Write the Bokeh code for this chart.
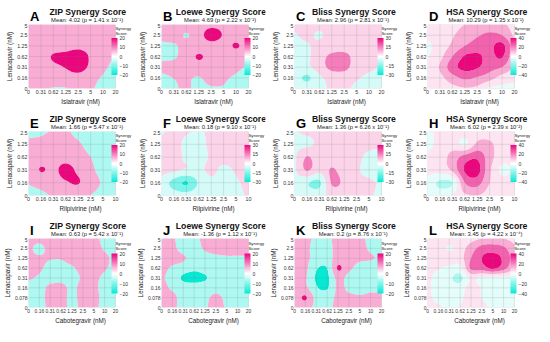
import numpy as np
from bokeh.plotting import figure
from bokeh.layouts import gridplot
from bokeh.models import Range1d, FixedTicker, ColorBar, LinearColorMapper, Label
from bokeh.embed import file_html
from bokeh.resources import INLINE

# ---------------- data ----------------
islatravir = ["0", "0.31", "0.62", "1.25", "2.5", "5", "10", "20"]
rilpivirine = ["0", "0.16", "0.31", "0.62", "1.25", "2.5", "5", "10"]
cabotegravir = ["0", "0.16", "0.31", "0.62", "1.25", "2.5", "5", "10", "20"]
lena_1 = ["0", "0.16", "0.31", "0.62", "1.25", "2.5", "5"]
lena_2 = ["0", "0.16", "0.31", "0.62", "1.25", "2.5"]
lena_3 = ["0", "0.078", "0.16", "0.31", "0.62", "1.25", "2.5", "5"]

letters = ["A", "B", "C", "D", "E", "F", "G", "H", "I", "J", "K", "L"]
methods = ["ZIP", "Loewe", "Bliss", "HSA"] * 3
means = ["4.02", "4.69", "2.96", "10.29", "1.66", "0.18", "1.36", "6.02",
         "0.63", "-1.36", "0.2", "3.45"]
pvals = ["1.41 x 10\u207b\u00b9", "2.22 x 10\u207b\u00b2", "2.81 x 10\u207b\u00b9", "1.35 x 10\u207b\u00b9",
         "5.47 x 10\u207b\u00b9", "9.10 x 10\u207b\u00b9", "6.26 x 10\u207b\u00b9", "2.39 x 10\u207b\u00b2",
         "5.42 x 10\u207b\u00b9", "1.12 x 10\u207b\u00b9", "8.76 x 10\u207b\u00b9", "4.22 x 10\u207b\u2074"]
score_max = [20, 20, 30, 40, 20, 30, 30, 40, 20, 20, 20, 40]
bar_ticks = {20: [-20, -10, 0, 10, 20], 30: [-30, -15, 0, 15, 30], 40: [-40, -20, 0, 20, 40]}

# synergy score matrices: rows = Lenacapavir dose from highest (top) to 0 (bottom)
zip_isl = [
    [4, 5, 5, 5, 5, 5, 4, 4],
    [4, 5, 6, 6, 6, 6, 5, 4],
    [4, 5, 6, 7, 8, 7, 5, 2],
    [4, 6, 10.8, 12, 14, 9, 4, -0.5],
    [4, 5, 8, 10.5, 14, 8, 2, -3],
    [3, 4, 4, 5, 6, 3, -1, -4],
    [2, 1, -0.5, -0.5, 2, 1, -3, -4],
]
loewe_isl = [
    [3, 4, 4, 4, 6, 6, 5, 4],
    [3, 4, -0.5, 5, 16, 9, 5, 4],
    [-2, -1, 3, 4, 5, 5, 11, 4],
    [-2, -1, 4, 11, 6, 5, 4, 3],
    [2, 3, 4, 5, 5, 3, 1.5, -1],
    [-2, 0.2, 1, -0.5, 3, 1, -1, -3],
    [-3, -1, 1, -2, -1, -0.5, -3, -4],
]
bliss_isl = [
    [3, 3, 3, 4, 4, 4, 3, 3],
    [-1, 2, -1, 4, 4, 4, 3, 3],
    [-3, -1, 3, 5, 5, 4, 3, 3],
    [-3, -2, 6, 12, 13, 6, 3, 2],
    [-3, -2, 5, 13, 13, 5, 2, -1],
    [-4, -12, -2, 3, 4, 1, -2, -3],
    [-3, -3, -2, 1, 2, -2, -3, -3],
]
hsa_isl = [
    [3, 4, 6, 10, 13, 14, 12, 5],
    [2, 5, 9, 15, 19, 22, 20, 8],
    [-2, 4, 12, 20, 24, 27, 33, 12],
    [-1, 7, 20, 31, 32, 27, 31, 10],
    [1, 11, 26, 33, 31, 24, 20, 8],
    [2, 7, 16, 22, 19, 14, 6, 2],
    [1, 3, 6, 9, 7, -2, -3, -2],
]
zip_ril = [
    [-3, -2, 1, 1, -2, -3, -3, -3],
    [2, 3, 4, 2, 1, -3, -4, -4],
    [3, 5, 6, 6, 4, 0, -4, -4],
    [4, 10.5, 8, 13, 8, 2, -3, -4],
    [0.5, 3, 5, 9, 10.5, 4, -1, -4],
    [-3, -2, 1, 3, 3, -0.2, -3, -4],
]
loewe_ril = [
    [-1, 2, 1, -1, 2, 3, 3, 3],
    [2, 3, -2, -3, 2, 3, 3, 3],
    [3, 4, -2, -3, 1, 3, 3, 2],
    [3, 2, -1, -2, 2, -2, 1, 3],
    [-3, -14, -21, -9, -2, -4, -1, 2],
    [-2, -4, -5, -3, -2, -4, -2, 1],
]
bliss_ril = [
    [-1, 2, 2, 2, 2, 2, 1, 1],
    [-2, -2, 2, 3, 3, 3, 2, 1],
    [-2, 10.5, 4, 4, 4, 2, -2, -3],
    [-2, 11, 3, 11, 5, 1, -2, -3],
    [-3, -9, -12, 11, 8, 2, 1, -1],
    [-3, -3, -3, 3, 4, 3, 1, -2],
]
hsa_ril = [
    [-2, 2, 3, 5, 6, 4, 3, 2],
    [-3, 3, 5, -1, 12, 12, 4, 3],
    [2, 5, 14, 24, 28, 14, 4, 2],
    [3, 4, 12, 31, 34, 12, -2, 2],
    [-3, -12, -10, 20, 24, 10, 4, 3],
    [-2, -4, 2, 8, 10, 5, 3, 2],
]
zip_cab = [
    [3, 3, 4, 4, 4, 4, 2, -2, -3],
    [2, -2, 3, 5, 5, 5, 4, -1, -3],
    [2, 1, 0.5, 0.5, 3, 5, 5, 2, -3],
    [2, 1, -2, -2, -1, 3, 4, 1, -3],
    [1, -1, -3, -3, -3, 1, 2, -2, -4],
    [-3, -3, 2, 3, -2, 3, 2, -3, -4],
    [-3, -3, 3, 3, -2, 3, 3, -3, -4],
    [-3, -3, 2, 3, -2, 2, 2, -3, -4],
]
loewe_cab = [
    [3, 1, -3, -2, 2, 3, 3, 3, 3],
    [3, 2, -3, -3, 1, 3, 3, 3, 3],
    [3, 3, 1, -3, -3, -2, -1, -1, -1],
    [2, -1, -4, -8, -6, -5, -4, -3, -3],
    [0.5, -2, -12, -13, -11, -5, -4, -4, -4],
    [2, -1, -4, -6, -5, -3, -4, -5, -5],
    [3, 2, -3, -4, -2, 2, -2, -4, -4],
    [3, 2, -3, -3, -1, 3, -1, -4, -4],
]
bliss_cab = [
    [3, 3, -2, -2, 3, 3, 2, -2, -3],
    [3, 2, -3, -3, 3, 3, 2, -1, -3],
    [3, 2, -3, -4, 4, 2, 1, 0.5, -1],
    [3, 2, -9, -10, 11, 2, -2, -3, -3],
    [3, 1, -11, -12, 3, -3, -4, -4, -4],
    [3, 2, -9, -11, 2, -2, -3, -2, -2],
    [3, 11, -3, -4, 2, 2, 1, 2, 2],
    [3, 3, -2, -3, 3, 3, 3, 3, 3],
]
hsa_cab = [
    [3, 4, 5, 5, 6, 10, 12, 10, 6],
    [3, 5, -1, 5, 15, 24, 25, 22, 12],
    [2, 4, 5, 6, 20, 30, 34, 28, 14],
    [2, 0.5, -2, -3, 22, 25, 32, 24, 10],
    [2, -3, -8, -13, 2, -2, -3, -3, -2],
    [2, -4, -6, -5, 4, -0.5, -4, -4, -3],
    [2, -2, -3, -2, 5, -0.5, -3, -4, -3],
    [2, 1, -1, 0.5, 4, 3, -2, -3, -2],
]

matrices = [zip_isl, loewe_isl, bliss_isl, hsa_isl,
            zip_ril, loewe_ril, bliss_ril, hsa_ril,
            zip_cab, loewe_cab, bliss_cab, hsa_cab]
x_labels = [islatravir] * 4 + [rilpivirine] * 4 + [cabotegravir] * 4
x_names = ["Islatravir (nM)"] * 4 + ["Rilpivirine (nM)"] * 4 + ["Cabotegravir (nM)"] * 4
y_labels = [lena_1] * 4 + [lena_2] * 4 + [lena_3] * 4

# ---------------- styling helpers ----------------
POS = np.array([236, 6, 126])
NEG = np.array([6, 234, 212])
WHITE = np.array([255, 255, 255])
FONT = "Liberation Sans"


def mix(end, g):
    c = WHITE + (end - WHITE) * g
    return "#%02x%02x%02x" % tuple(int(round(v)) for v in c)


def band_color(lo, hi, m):
    outer = hi if hi > 0 else lo
    f = min(abs(outer) / m, 1.0) ** 1.6
    return mix(POS if hi > 0 else NEG, f)


palette = [mix(NEG, 1 - i / 127) for i in range(128)] + [mix(POS, i / 127) for i in range(128)]


def smooth(z, k=10):
    """Catmull-Rom resampling used only to draw smooth contour outlines."""
    def along_last(a):
        n = a.shape[-1]
        t = np.linspace(0, n - 1, (n - 1) * k + 1)
        i = np.clip(np.floor(t).astype(int), 0, n - 2)
        u = t - i
        pad = np.concatenate([2 * a[..., :1] - a[..., 1:2], a, 2 * a[..., -1:] - a[..., -2:-1]], axis=-1)
        p0, p1, p2, p3 = pad[..., i], pad[..., i + 1], pad[..., i + 2], pad[..., i + 3]
        return 0.5 * (2 * p1 + (-p0 + p2) * u + (2 * p0 - 5 * p1 + 4 * p2 - p3) * u ** 2
                      + (-p0 + 3 * p1 - 3 * p2 + p3) * u ** 3)
    z1 = along_last(z)
    return along_last(z1.T).T


W = 133
HEAD_H = 23
PANEL_H = [84, 84, 89]
LEGEND_FRAC = 18.0 / 92.0   # share of the frame kept free for the colour bar


def make_header(k):
    h = figure(width=W, height=HEAD_H, x_range=Range1d(0, W), y_range=Range1d(0, HEAD_H),
               x_axis_type=None, y_axis_type=None, output_backend="svg", toolbar_location=None,
               min_border=0)
    h.title.visible = False
    h.grid.visible = False
    h.outline_line_color = None
    h.add_layout(Label(x=2, y=7, text=letters[k], text_font=FONT, text_font_size="13px",
                       text_font_style="bold", text_color="#000000", text_baseline="alphabetic"))
    h.add_layout(Label(x=76, y=12, text="%s Synergy Score" % methods[k], text_font=FONT,
                       text_font_size="8.7px", text_font_style="bold", text_color="#111111",
                       text_align="center", text_baseline="alphabetic"))
    h.add_layout(Label(x=75, y=4, text="Mean: %s (p = %s)" % (means[k], pvals[k]), text_font=FONT,
                       text_font_size="5.8px", text_color="#222222",
                       text_align="center", text_baseline="alphabetic"))
    return h


def make_panel(k):
    z = np.array(matrices[k], dtype=float)[::-1]
    ny, nx = z.shape
    m = score_max[k]
    xt, yt = x_labels[k], y_labels[k]
    r = k // 4

    p = figure(width=W, height=PANEL_H[r],
               x_range=Range1d(0, (nx - 1) * (1 + LEGEND_FRAC)), y_range=Range1d(0, ny - 1),
               output_backend="svg", toolbar_location=None,
               min_border_left=0, min_border_right=1, min_border_top=1, min_border_bottom=0)
    p.title.visible = False

    zs = np.clip(smooth(z), -m + 0.01, m - 0.01)
    xs = np.linspace(0, nx - 1, zs.shape[1])
    ys = np.linspace(0, ny - 1, zs.shape[0])
    levels = list(range(-m, m + 1, 10))
    fills = [band_color(levels[i], levels[i + 1], m) for i in range(len(levels) - 1)]
    p.contour(x=xs, y=ys, z=zs, levels=levels, fill_color=fills, line_color=None)

    # grid lines over the surface, at the tested doses only
    gx = list(range(nx))
    gy = list(range(ny))
    p.segment(x0=gx, y0=[0] * nx, x1=gx, y1=[ny - 1] * nx, line_color="#777777",
              line_alpha=0.3, line_width=0.6)
    p.segment(x0=[0] * ny, y0=gy, x1=[nx - 1] * ny, y1=gy, line_color="#777777",
              line_alpha=0.3, line_width=0.6)

    # axes
    p.xaxis.ticker = FixedTicker(ticks=gx)
    p.yaxis.ticker = FixedTicker(ticks=gy)
    p.xaxis.major_label_overrides = {i: s for i, s in enumerate(xt)}
    p.yaxis.major_label_overrides = {i: s for i, s in enumerate(yt)}
    p.xaxis.axis_label = x_names[k]
    p.yaxis.axis_label = "Lenacapavir (nM)"
    for ax in (p.xaxis, p.yaxis):
        ax.axis_line_color = None
        ax.major_tick_line_color = None
        ax.minor_tick_line_color = None
        ax.major_tick_out = 0
        ax.major_tick_in = 0
        ax.major_label_text_font = FONT
        ax.major_label_text_font_size = "5.3px"
        ax.major_label_text_color = "#333333"
        ax.major_label_standoff = 1
        ax.axis_label_text_font = FONT
        ax.axis_label_text_font_size = "6.3px"
        ax.axis_label_text_font_style = "normal"
        ax.axis_label_text_color = "#222222"
        ax.axis_label_standoff = 1
    if r == 2:
        p.xaxis.major_label_text_font_size = "4.9px"
        p.yaxis.major_label_text_font_size = "5px"
    p.grid.visible = False
    p.outline_line_color = None

    # colour bar, inside the frame on the right
    bar_h = int(PANEL_H[r] * 0.45)
    cb = ColorBar(color_mapper=LinearColorMapper(palette=palette, low=-m, high=m),
                  ticker=FixedTicker(ticks=bar_ticks[m]), width=6, height=bar_h,
                  major_label_text_font=FONT, major_label_text_font_size="5px",
                  major_label_text_color="#333333",
                  label_standoff=2, major_tick_line_color=None, bar_line_color=None,
                  padding=1, margin=1, location="center_right", background_fill_alpha=0)
    p.add_layout(cb)
    p.add_layout(Label(x=nx - 1, y=(ny - 1) / 2, x_offset=0, y_offset=bar_h / 2 + 2,
                       text="Synergy\nScore", text_font=FONT, text_font_size="4.3px",
                       text_color="#222222", text_baseline="bottom", text_line_height=1.05))
    return p


rows = []
for r in range(3):
    rows.append([make_header(k) for k in range(4 * r, 4 * r + 4)])
    rows.append([make_panel(k) for k in range(4 * r, 4 * r + 4)])
grid = gridplot(rows, toolbar_location=None)

open("out.html", "w").write(file_html(grid, INLINE))
